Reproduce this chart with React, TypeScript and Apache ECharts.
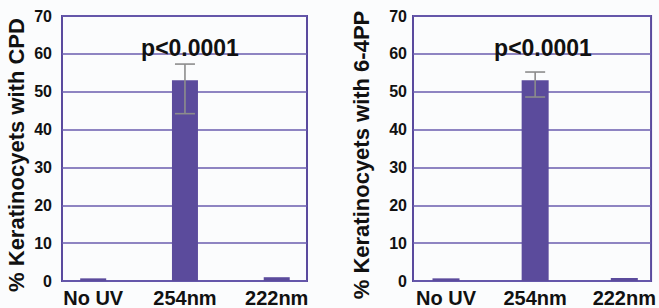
import React, { useEffect, useRef } from "react";
import * as echarts from "echarts";

const categories = ["No UV", "254nm", "222nm"];
const cpdValues = [0.7, 53, 1.0];
const cpdErrLow = [null, 44.2, null];
const cpdErrHigh = [null, 57.3, null];
const pp64Values = [0.7, 53, 0.8];
const pp64ErrLow = [null, 48.6, null];
const pp64ErrHigh = [null, 55.2, null];
const yTitles = ["% Keratinocyets with CPD", "% Keratinocyets with 6-4PP"];
const pLabel = "p<0.0001";

const FONT = "'Liberation Sans', Arial, Helvetica, sans-serif";
const BAR = "#5b4b9c";
const GRID = "#6a5cae";
const FRAME = "#5a4a9e";
const ERR = "#8c8c8c";

function errData(lo: (number | null)[], hi: (number | null)[]) {
  const out: number[][] = [];
  lo.forEach((l, i) => {
    const h = hi[i];
    if (l != null && h != null) out.push([i, l, h]);
  });
  return out;
}

function renderErr(params: any, api: any) {
  const x = api.value(0);
  const pLo = api.coord([x, api.value(1)]);
  const pHi = api.coord([x, api.value(2)]);
  const hw = 10;
  const style = { stroke: ERR, lineWidth: 1.6 };
  return {
    type: "group",
    children: [
      { type: "line", shape: { x1: pHi[0], y1: pHi[1], x2: pLo[0], y2: pLo[1] }, style },
      { type: "line", shape: { x1: pHi[0] - hw, y1: pHi[1], x2: pHi[0] + hw, y2: pHi[1] }, style },
      { type: "line", shape: { x1: pLo[0] - hw, y1: pLo[1], x2: pLo[0] + hw, y2: pLo[1] }, style },
    ],
  };
}

export default function App() {
  const ref = useRef<HTMLDivElement>(null);
  useEffect(() => {
    if (!ref.current) return;
    const chart = echarts.init(ref.current, null, { renderer: "svg" });
    const grids = [
      { left: 62, top: 16, width: 245, height: 267 },
      { left: 413, top: 16, width: 244, height: 267 },
    ];
    const xRanges = [
      [-0.34, 2.33],
      [-0.37, 2.3],
    ];
    const nameGaps = [35, 41];
    const labelMargins = [10, 6];
    const pCenters = [185, 538];
    const option: any = {
      animation: false,
      backgroundColor: "#fbfcfd",
      title: pCenters.map((c) => ({
        text: pLabel,
        left: c,
        top: 31,
        textAlign: "center",
        textStyle: { fontFamily: FONT, fontSize: 23, fontWeight: "bold", color: "#111" },
      })),
      grid: grids.map((g) => ({
        ...g,
        show: true,
        backgroundColor: "transparent",
        borderColor: FRAME,
        borderWidth: 2,
      })),
      xAxis: grids.map((_, i) => ({
        type: "value",
        gridIndex: i,
        min: xRanges[i][0],
        max: xRanges[i][1],
        splitLine: { show: false },
        axisLine: { show: false },
        axisTick: { show: false, customValues: [0, 1, 2] },
        axisLabel: {
          customValues: [0, 1, 2],
          formatter: (v: number) => categories[Math.round(v)] ?? "",
          fontFamily: FONT,
          fontSize: 20,
          fontWeight: "bold",
          color: "#111",
          margin: 7,
        },
      })),
      yAxis: grids.map((_, i) => ({
        type: "value",
        gridIndex: i,
        min: 0,
        max: 70,
        interval: 10,
        name: yTitles[i],
        nameLocation: "middle",
        nameGap: nameGaps[i],
        nameTextStyle: {
          fontFamily: FONT,
          fontSize: 22,
          fontWeight: "bold",
          color: "#111",
          padding: [0, 13, 0, 0],
        },
        axisLine: { show: false },
        axisTick: { show: false },
        splitLine: { show: true, lineStyle: { color: GRID, width: 1.5, opacity: 1 } },
        axisLabel: {
          fontFamily: FONT,
          fontSize: 16,
          fontWeight: "bold",
          color: "#111",
          margin: labelMargins[i],
        },
      })),
      series: [
        {
          type: "bar",
          xAxisIndex: 0,
          yAxisIndex: 0,
          barWidth: 26,
          itemStyle: { color: BAR },
          data: cpdValues.map((v, i) => [i, v]),
        },
        {
          type: "bar",
          xAxisIndex: 1,
          yAxisIndex: 1,
          barWidth: 27,
          itemStyle: { color: BAR },
          data: pp64Values.map((v, i) => [i, v]),
        },
        {
          type: "custom",
          xAxisIndex: 0,
          yAxisIndex: 0,
          renderItem: renderErr,
          encode: { x: 0, y: [1, 2] },
          data: errData(cpdErrLow, cpdErrHigh),
          z: 5,
        },
        {
          type: "custom",
          xAxisIndex: 1,
          yAxisIndex: 1,
          renderItem: renderErr,
          encode: { x: 0, y: [1, 2] },
          data: errData(pp64ErrLow, pp64ErrHigh),
          z: 5,
        },
      ],
    };
    chart.setOption(option);
    return () => chart.dispose();
  }, []);
  return (
    <div
      ref={ref}
      style={{ position: "absolute", left: 0, top: 0, width: 659, height: 308 }}
    />
  );
}
